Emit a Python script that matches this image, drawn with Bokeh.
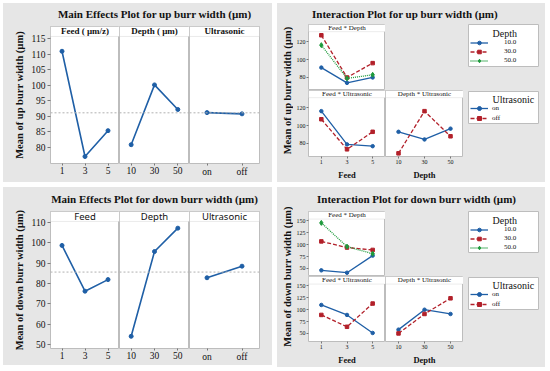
from bokeh.plotting import figure
from bokeh.models import (Range1d, FactorRange, FixedTicker, BoxAnnotation, Label,
                          Span, Div, Legend, LegendItem, Spacer)
from bokeh.layouts import row, column
from bokeh.embed import file_html
from bokeh.resources import INLINE

SERIF = "Liberation Serif"
SANS = "Noto Sans"
BG = "#e6e6e6"
FRAME = "#bdbdbd"
BLUE = "#1f5fa6"
RED = "#b2202a"
GREEN = "#1e9a3c"
TXT = "#111111"

# ---------------- data ----------------
feed_levels = ["1", "3", "5"]
depth_levels = ["10", "30", "50"]
ultra_levels = ["on", "off"]

# main effects, up burr width
up_feed = [110.9, 77.1, 85.4]
up_depth = [80.9, 100.1, 92.2]
up_ultra = [91.2, 90.8]
# main effects, down burr width
down_feed = [98.7, 76.2, 81.9]
down_depth = [54.0, 95.7, 107.2]
down_ultra = [82.8, 88.5]

# interaction, up burr width
up_fd_10 = [91, 74, 80]
up_fd_30 = [127, 80, 96]
up_fd_50 = [116, 79, 83]
up_fu_on = [116, 79, 77]
up_fu_off = [107, 73.5, 93]
up_du_on = [93, 84.5, 96.5]
up_du_off = [69, 116, 88]
# interaction, down burr width
down_fd_10 = [46, 41, 77]
down_fd_30 = [107, 94, 89]
down_fd_50 = [146, 96, 81]
down_fu_on = [110, 89, 51]
down_fu_off = [89, 64, 113]
down_du_on = [58, 100, 91]
down_du_off = [50, 91, 124]

up_me_ticks = [80, 85, 90, 95, 100, 105, 110, 115]
down_me_ticks = [50, 60, 70, 80, 90, 100, 110]
up_ia_ticks = [80, 100, 120]
down_ia_ticks = [50, 75, 100, 125, 150]
depth_legend = ["10.0", "30.0", "50.0"]
ultra_legend = ["on", "off"]

# series styles: (color, dash, marker, size)
S_BLUE = (BLUE, "solid", "circle", 3.5)
S_RED = (RED, "4 2", "square", 3.5)
S_GREEN = (GREEN, "1 1", "diamond", 5)


def sp(w, h, bg=BG):
    if bg is None:
        return Spacer(width=w, height=h, margin=0)
    return Spacer(width=w, height=h, margin=0, styles={"background-color": bg})


def base_fig(x_range, y_range, fw, fh, **kw):
    p = figure(x_range=x_range, y_range=y_range, frame_width=fw, frame_height=fh,
               toolbar_location=None, output_backend="svg",
               background_fill_color="white", border_fill_color=BG,
               outline_line_color=FRAME, outline_line_width=1, margin=0, **kw)
    p.xgrid.visible = False
    p.ygrid.visible = False
    return p


def add_strip(p, strip_bot, text, fw, font, size, style):
    p.add_layout(BoxAnnotation(bottom=strip_bot, fill_color="white", fill_alpha=1.0,
                               line_color=FRAME, line_width=1))
    p.add_layout(Label(x=fw / 2, x_units="screen", y=(strip_bot + p.y_range.end) / 2,
                       text=text, text_align="center", text_baseline="middle",
                       text_font=font, text_font_size=size, text_font_style=style,
                       text_color=TXT))


def style_axis(ax, fsize, tick_out, standoff):
    ax.major_label_text_font = SERIF
    ax.major_label_text_font_size = fsize
    ax.major_label_text_color = TXT
    ax.major_tick_out = tick_out
    ax.major_tick_in = 0
    ax.major_tick_line_color = "#777777"
    ax.minor_tick_line_color = None
    ax.axis_line_color = None
    ax.major_label_standoff = standoff


def title_div(text, W, H, left, width, align):
    html = ('<div style="margin-left:%dpx;width:%dpx;text-align:%s;'
            'font-family:\'Liberation Serif\';font-weight:bold;font-size:11px;'
            'line-height:%dpx;color:#111;white-space:nowrap;">%s</div>'
            % (left, width, align, H + 1, text))
    return Div(text=html, width=W, height=H, margin=0,
               styles={"background-color": BG, "overflow": "hidden"})


def ylabel_fig(text, W, H, x, y):
    p = figure(x_range=Range1d(0, 1), y_range=Range1d(0, 1), width=W, height=H,
               min_border=0, toolbar_location=None, output_backend="svg",
               x_axis_location=None, y_axis_location=None, outline_line_color=None,
               background_fill_color=BG, border_fill_color=BG, margin=0)
    p.xgrid.visible = False
    p.ygrid.visible = False
    p.add_layout(Label(x=x, y=y, x_units="screen", y_units="screen", text=text,
                       angle=90, angle_units="deg", text_align="center",
                       text_baseline="middle", text_font=SERIF, text_font_style="bold",
                       text_font_size="10.5px", text_color=TXT))
    return p


def main_effects(W, H, title_h, title, ylabel, panels, yr_lo, yr_hi, strip_bot, ticks,
                 hfont, hsize, hstyle):
    LW = 24
    top = 1
    fh = 137
    fws = [69, 70, 70]
    left = 23
    right_b = W - LW - left - sum(fws)
    bottom = H - title_h - top - fh
    yr = Range1d(yr_lo, yr_hi)
    grand = sum(panels[0][1]) / len(panels[0][1])
    figs = []
    for i, (levels, vals, header) in enumerate(panels):
        first = i == 0
        last = i == len(panels) - 1
        p = base_fig(FactorRange(factors=levels), yr, fws[i], fh,
                     min_border_left=left if first else 0,
                     min_border_right=right_b if last else 0,
                     min_border_top=top, min_border_bottom=bottom,
                     y_axis_location="left" if first else None)
        p.add_layout(Span(location=grand, dimension="width", line_color="#b0b0b0",
                          line_dash="2 2", line_width=1))
        p.line(x=levels, y=vals, line_color=BLUE, line_width=1.6)
        p.scatter(x=levels, y=vals, size=4, color=BLUE)
        add_strip(p, strip_bot, header, fws[i], hfont, hsize, hstyle)
        style_axis(p.xaxis[0], "9.5px", 2, 1)
        if first:
            ax = p.yaxis[0]
            style_axis(ax, "9.5px", 3, 2)
            ax.ticker = FixedTicker(ticks=ticks)
        figs.append(p)
    ylab = ylabel_fig(ylabel, LW, H, 16, H - (title_h + top + fh / 2))
    right = column(title_div(title, W - LW, title_h, left, sum(fws), "center"), row(*figs))
    return row(ylab, right, styles={"background-color": BG})


def inter_panel(levels, series, header, yr, strip_bot, ticks, fw, fh, show_y, xlabel, mb_bottom):
    p = base_fig(FactorRange(factors=levels), yr, fw, fh,
                 min_border_left=15 if show_y else 0, min_border_right=0,
                 min_border_top=0, min_border_bottom=mb_bottom,
                 y_axis_location="left" if show_y else None,
                 x_axis_location="below" if xlabel else None)
    for vals, (color, dash, marker, msize) in series:
        p.line(x=levels, y=vals, line_color=color, line_dash=dash, line_width=1.3)
        p.scatter(x=levels, y=vals, marker=marker, size=msize, color=color)
    add_strip(p, strip_bot, header, fw, SERIF, "7px", "normal")
    if show_y:
        style_axis(p.yaxis[0], "6px", 2, 1)
        p.yaxis[0].ticker = FixedTicker(ticks=ticks)
    if xlabel:
        ax = p.xaxis[0]
        style_axis(ax, "6px", 2, 1)
        ax.axis_label = xlabel
        ax.axis_label_text_font = SERIF
        ax.axis_label_text_font_style = "bold"
        ax.axis_label_text_font_size = "8.5px"
        ax.axis_label_text_color = TXT
        ax.axis_label_standoff = 3
    return p


def legend_fig(title, labels, series, W, H, title_x, title_y, first_top, row_h, standoff):
    # legend-only panel: proxy renderers hold the real series but sit outside
    # the visible y range, so only their legend samples are drawn
    p = figure(x_range=FactorRange(factors=feed_levels), y_range=Range1d(-2, -1),
               width=W, height=H,
               min_border=0, toolbar_location=None, output_backend="svg",
               x_axis_location=None, y_axis_location=None,
               background_fill_color="white", border_fill_color=BG,
               outline_line_color=FRAME, margin=0)
    p.xgrid.visible = False
    p.ygrid.visible = False
    items = []
    for lab, (vals, (color, dash, marker, msize)) in zip(labels, series):
        l = p.line(x=feed_levels, y=vals, line_color=color, line_dash=dash, line_width=1.3)
        s = p.scatter(x=feed_levels, y=vals, marker=marker, size=msize, color=color)
        items.append(LegendItem(label=lab, renderers=[l, s]))
    bottom_gap = H - (first_top + len(labels) * row_h)
    leg = Legend(items=items, location=(2, bottom_gap),
                 padding=0, spacing=0, margin=0, glyph_width=18, glyph_height=row_h,
                 label_height=row_h, label_standoff=standoff,
                 label_text_font=SERIF, label_text_font_size="7px",
                 label_text_color=TXT, border_line_color=None,
                 background_fill_alpha=0)
    p.add_layout(leg)
    p.add_layout(Label(x=title_x, y=H - title_y, x_units="screen", y_units="screen",
                       text=title, text_baseline="middle", text_font=SERIF,
                       text_font_size="10px", text_color=TXT))
    return p


def interaction(W, H, title_h, row1_h, row2_h, title, ylabel, fd_series, fu_series,
                du_series, yr_lo, yr_hi, strip_bot, ticks, title_left, legd_h):
    LW = 16
    bottom = H - title_h - row1_h - row2_h
    yr = Range1d(yr_lo, yr_hi)
    fd = inter_panel(feed_levels, fd_series, "Feed * Depth", yr, strip_bot, ticks,
                     77, row1_h, True, None, 0)
    fu = inter_panel(feed_levels, fu_series, "Feed * Ultrasonic", yr, strip_bot, ticks,
                     77, row2_h, True, "Feed", bottom)
    du = inter_panel(depth_levels, du_series, "Depth * Ultrasonic", yr, strip_bot, ticks,
                     78, row2_h, False, "Depth", bottom)
    ylab = ylabel_fig(ylabel, LW, H, 10, H - title_h - (row1_h + row2_h) / 2)
    legd = legend_fig("Depth", depth_legend, fd_series, 71, legd_h, 24, 8.5, 13.5, 9, 16)
    legu = legend_fig("Ultrasonic", ultra_legend, fu_series, 71, 33, 24, 8, 12, 10, 4)
    rw = W - LW - 92 - 78 - 5 - 71
    r1 = row(fd, sp(83, row1_h), column(legd, sp(71, row1_h - legd_h)), sp(rw, row1_h))
    r2 = row(fu, du, sp(5, row2_h + bottom),
             column(sp(71, 1), legu, sp(71, row2_h + bottom - 34)),
             sp(rw, row2_h + bottom))
    right = column(title_div(title, W - LW, title_h, title_left - LW, 240, "left"), r1, r2)
    return row(ylab, right, styles={"background-color": BG})


tl = main_effects(269, 179, 22, "Main Effects Plot for up burr width (\u00b5m)",
                  "Mean of up burr width (\u00b5m)",
                  [(feed_levels, up_feed, "Feed ( \u00b5m/z)"),
                   (depth_levels, up_depth, "Depth ( \u00b5m)"),
                   (ultra_levels, up_ultra, "Ultrasonic")],
                  74.86, 118.85, 115.64, up_me_ticks, SERIF, "9px", "bold")

bl = main_effects(269, 178, 23, "Main Effects Plot for down burr width (\u00b5m)",
                  "Mean of down burr width (\u00b5m)",
                  [(feed_levels, down_feed, "Feed"),
                   (depth_levels, down_depth, "Depth"),
                   (ultra_levels, down_ultra, "Ultrasonic")],
                  48.0, 115.4, 110.5, down_me_ticks, SANS, "9.5px", "normal")

tr = interaction(268, 179, 21, 66, 66, "Interaction Plot for up burr width (\u00b5m)",
                 "Mean of up burr width (\u00b5m)",
                 [(up_fd_10, S_BLUE), (up_fd_30, S_RED), (up_fd_50, S_GREEN)],
                 [(up_fu_on, S_BLUE), (up_fu_off, S_RED)],
                 [(up_du_on, S_BLUE), (up_du_off, S_RED)],
                 65.5, 139, 131, up_ia_ticks, 35, 43)

br = interaction(268, 178, 24, 65, 65, "Interaction Plot for down burr width (\u00b5m)",
                 "Mean of down burr width (\u00b5m)",
                 [(down_fd_10, S_BLUE), (down_fd_30, S_RED), (down_fd_50, S_GREEN)],
                 [(down_fu_on, S_BLUE), (down_fu_off, S_RED)],
                 [(down_du_on, S_BLUE), (down_du_off, S_RED)],
                 33, 170, 154, down_ia_ticks, 40, 42)

grid = column(row(tl, tr, spacing=5), row(bl, br, spacing=5), spacing=5)
layout = column(sp(545, 3, None), row(sp(3, 362, None), grid))

open("out.html", "w").write(file_html(layout, INLINE))
